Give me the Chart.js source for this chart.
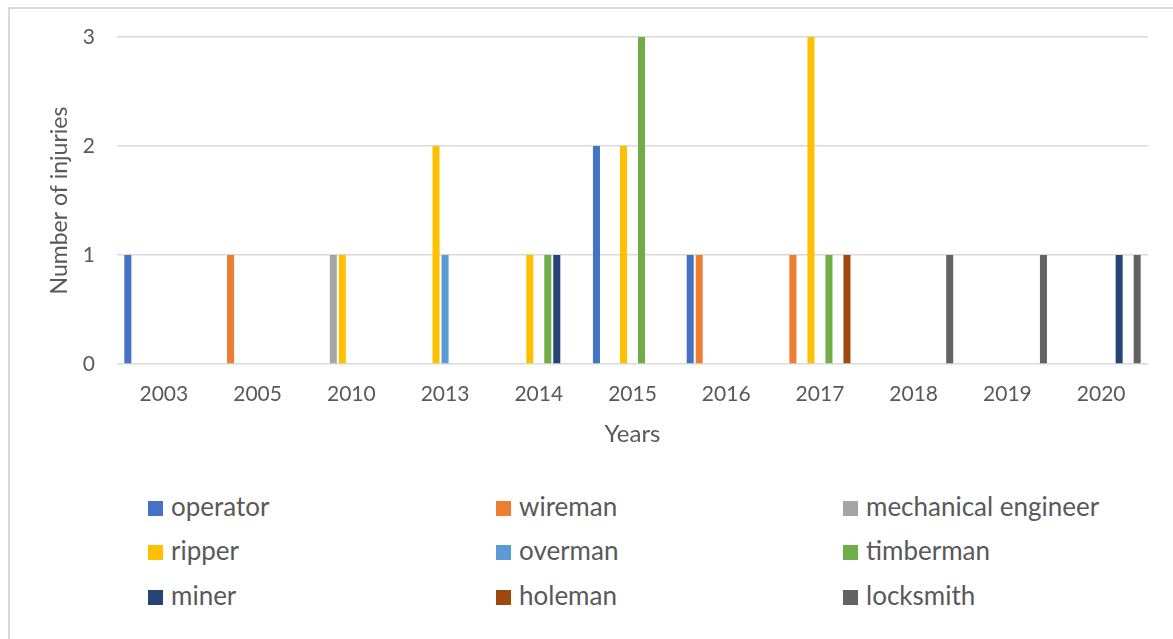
<!DOCTYPE html>
<html>
<head>
<meta charset="utf-8">
<script src="https://cdn.jsdelivr.net/npm/chart.js@4/dist/chart.umd.min.js"></script>
<style>
  body { margin: 0; background: #fff; }
  #frame { position: absolute; left: 8px; top: 7px; width: 1180px; height: 650px; border: 2px solid #d9d9d9; }
  #wrap { position: absolute; left: 0; top: 0; width: 1173px; height: 470px; }
  .leg { position: absolute; font-family: Lato, sans-serif; font-size: 26px; color: #595959; line-height: 28px; white-space: nowrap; }
  .leg span { display: inline-block; width: 15px; height: 15px; margin-right: 8px; vertical-align: 0px; }
</style>
</head>
<body>
<div id="frame"></div>
<div id="wrap"><canvas id="chart" width="1173" height="470"></canvas></div>
<div id="legend"></div>
<script>
var years = ['2003', '2005', '2010', '2013', '2014', '2015', '2016', '2017', '2018', '2019', '2020'];
var yTicks = [0, 1, 2, 3];

// injuries per year, one array per job
var operator   = [1, 0, 0, 0, 0, 2, 1, 0, 0, 0, 0];
var wireman    = [0, 1, 0, 0, 0, 0, 1, 1, 0, 0, 0];
var mechanical = [0, 0, 1, 0, 0, 0, 0, 0, 0, 0, 0];
var ripper     = [0, 0, 1, 2, 1, 2, 0, 3, 0, 0, 0];
var overman    = [0, 0, 0, 1, 0, 0, 0, 0, 0, 0, 0];
var timberman  = [0, 0, 0, 0, 1, 3, 0, 1, 0, 0, 0];
var miner      = [0, 0, 0, 0, 1, 0, 0, 0, 0, 0, 1];
var holeman    = [0, 0, 0, 0, 0, 0, 0, 1, 0, 0, 0];
var locksmith  = [0, 0, 0, 0, 0, 0, 0, 0, 1, 1, 1];

var series = [
  ['operator', operator, '#4472C4'],
  ['wireman', wireman, '#ED7D31'],
  ['mechanical engineer', mechanical, '#A5A5A5'],
  ['ripper', ripper, '#FFC000'],
  ['overman', overman, '#5B9BD5'],
  ['timberman', timberman, '#70AD47'],
  ['miner', miner, '#264478'],
  ['holeman', holeman, '#9E480E'],
  ['locksmith', locksmith, '#636363']
];

Chart.defaults.font.family = 'Lato';
Chart.defaults.color = '#595959';

var chart = new Chart(document.getElementById('chart'), {
  type: 'bar',
  data: {
    labels: years,
    datasets: series.map(function (s) {
      return {
        label: s[0],
        data: s[1],
        backgroundColor: s[2],
        borderWidth: 0,
        categoryPercentage: 0.865,
        barPercentage: 0.78
      };
    })
  },
  options: {
    responsive: false,
    animation: false,
    layout: { padding: { top: 37, right: 25, left: 0, bottom: 10 } },
    plugins: {
      legend: { display: false },
      tooltip: { enabled: false }
    },
    scales: {
      x: {
        afterFit: function (s) { s.height = 96; },
        grid: { display: false, drawTicks: false },
        border: { display: false },
        ticks: { font: { size: 21 }, padding: 18, maxRotation: 0 },
        title: { display: true, text: 'Years', font: { size: 24 }, padding: { top: 0, bottom: 11 } }
      },
      y: {
        min: 0,
        max: 3,
        afterBuildTicks: function (s) { s.ticks = yTicks.map(function (v) { return { value: v }; }); },
        afterFit: function (s) { s.width = 117; },
        grid: { color: '#d9d9d9', lineWidth: 1.5, drawTicks: false },
        border: { display: false },
        ticks: { font: { size: 21 }, padding: 22 },
        title: { display: true, text: 'Number of injuries', font: { size: 23 }, padding: { top: 46, bottom: 0 } }
      }
    }
  }
});

// legend laid out as a 3 x 3 grid under the plot
var legCols = [148, 496, 843];
var legRows = [492, 536, 581];
var legend = document.getElementById('legend');
series.forEach(function (s, i) {
  var d = document.createElement('div');
  d.className = 'leg';
  d.style.left = legCols[i % 3] + 'px';
  d.style.top = legRows[Math.floor(i / 3)] + 'px';
  d.innerHTML = '<span style="background:' + s[2] + '"></span>' + s[0];
  legend.appendChild(d);
});
</script>
</body>
</html>
